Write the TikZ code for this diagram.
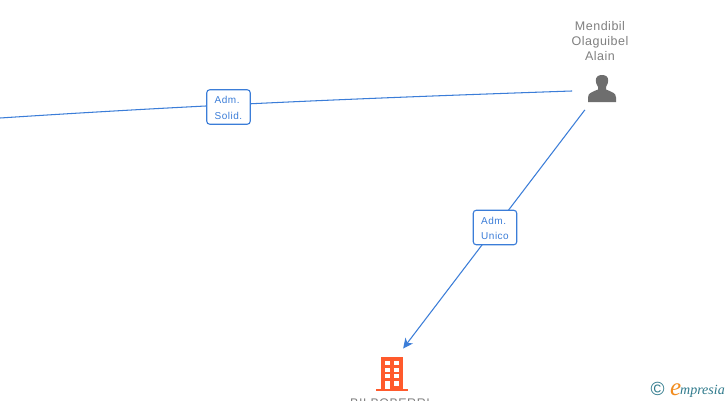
\documentclass[tikz,border=0pt]{standalone}
\usepackage{fontspec}
\setmainfont{Liberation Sans}
\newfontfamily\logofont{Liberation Serif}
\usetikzlibrary{arrows.meta}
\definecolor{edgeblue}{HTML}{3B7DD8}
\definecolor{greytext}{HTML}{808080}
\definecolor{persongrey}{HTML}{6E6E6E}
\definecolor{bldgcol}{HTML}{FF5A2C}
\definecolor{logoteal}{HTML}{2F7A8C}
\definecolor{orangee}{HTML}{F28C1E}
\tikzset{
  x=1pt,y=-1pt,
  hub/.style={circle,inner sep=0pt,outer sep=0pt},
  conn/.style={draw=edgeblue,line width=1.05pt},
  rolebox/.style={draw=edgeblue,line width=1.1pt,fill=white,rounded corners=3pt,align=left,inner sep=0pt,
    text=edgeblue,font=\fontsize{10}{15.5}\selectfont\addfontfeatures{LetterSpace=5}},
  entitylabel/.style={text=greytext,align=center,inner sep=0pt,font=\fontsize{12.5}{15}\selectfont\addfontfeatures{LetterSpace=4}}
}
\begin{document}
\begin{tikzpicture}
\useasboundingbox (0,0) rectangle (728,400);
\clip (0,0) rectangle (728,400);
\fill[white] (0,0) rectangle (728,400);
% anchors
\node[hub,minimum size=50pt] (person) at (600,90) {};
\node[hub,minimum size=61.6pt] (target) at (384.5,373) {};
\coordinate (leftend) at (0,118);
% connectors
\draw[conn,shorten >=3pt] (leftend) .. controls (230,103) and (400,97) .. (person);
\draw[conn,-{Stealth[length=10pt,width=9.5pt,inset=3pt]}] (person) -- (target);
% role boxes
\node[rolebox,minimum width=43.5pt,minimum height=34.5pt] (solid) at (228.5,107) {\rule{0pt}{9.4pt}Adm.\\Solid.};
\node[rolebox,minimum width=43.5pt,minimum height=34.5pt] (unico) at (495,227.5) {\rule{0pt}{9.4pt}Adm.\\Unico};
% person label and icon
\node[entitylabel] (mend) at (600,41) {Mendibil\\Olaguibel\\Alain};
\fill[persongrey] (588,102) -- (588,97.5) .. controls (588,93) and (592,92) .. (598,89.5)
  -- (598,87) .. controls (596.5,85) and (595.8,82) .. (595.8,80.5) .. controls (595.8,77) and (598,75) .. (602,75)
  .. controls (606,75) and (608.2,77) .. (608.2,80.5) .. controls (608.2,82) and (607.5,85) .. (606,87)
  -- (606,89.5) .. controls (612,92) and (616,93) .. (616,97.5) -- (616,102) -- cycle;
% building icon
\fill[bldgcol] (381,357) rectangle (403,389);
\fill[bldgcol] (376,389) rectangle (407.5,391);
\foreach \yy in {361,367.5,374}{
  \fill[white] (384.5,\yy) rectangle (389.5,\yy+4);
  \fill[white] (394,\yy) rectangle (399,\yy+4);
}
\fill[white] (384.5,381) rectangle (389.5,389);
\fill[white] (394,381) rectangle (399,385.5);
\node[text=greytext,inner sep=0pt,anchor=base,font=\fontsize{12.5}{15}\selectfont\addfontfeatures{LetterSpace=4}] (bname) at (390,407) {BILBOBERRI};
% logo
\node[text=logoteal,inner sep=0pt,font=\fontsize{19}{19}\selectfont] (copy) at (657.5,389) {©};
\node[text=orangee,inner sep=0pt,anchor=base west,font=\logofont\fontsize{25}{25}\selectfont\itshape] (logoe) at (670,395) {e};
\node[text=logoteal,inner sep=0pt,anchor=base west,font=\logofont\fontsize{14}{15}\selectfont\itshape] (logom) at (680,394) {mpresia};
\end{tikzpicture}
\end{document}
